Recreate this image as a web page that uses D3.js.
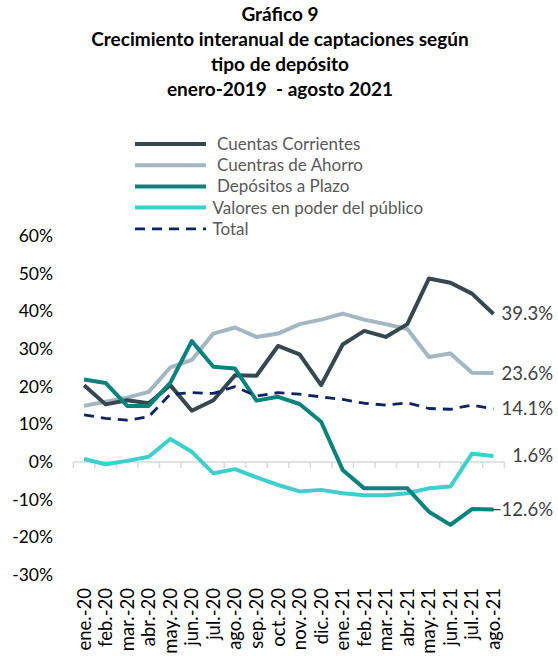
<!DOCTYPE html>
<html>
<head>
<meta charset="utf-8">
<script src="https://cdn.jsdelivr.net/npm/d3@7"></script>
<style>
  html, body { margin: 0; padding: 0; background: #fff; }
  svg { display: block; }
  text { font-family: Lato, "Open Sans", sans-serif; }
  .title { white-space: pre; }
</style>
</head>
<body>
<div id="chart"></div>
<script>
const titleLines = ["Gráfico 9", "Crecimiento interanual de captaciones según", "tipo de depósito", "enero-2019  - agosto 2021"];

const categories = ["ene.-20","feb.-20","mar.-20","abr.-20","may.-20","jun.-20","jul.-20","ago.-20","sep.-20","oct.-20","nov.-20","dic.-20","ene.-21","feb.-21","mar.-21","abr.-21","may.-21","jun.-21","jul.-21","ago.-21"];

const seriesNames = ["Cuentas Corrientes", "Cuentras de Ahorro", "Depósitos a Plazo", "Valores en poder del público", "Total"];

const corrientes = [20.4,15.3,16.4,15.6,20.4,13.6,16.4,23.0,22.9,30.8,28.6,20.4,31.2,34.8,33.2,36.6,48.7,47.6,44.7,39.3];
const ahorro     = [14.9,16.0,17.1,18.6,25.1,27.1,34.1,35.7,33.2,34.1,36.6,37.8,39.4,37.8,36.6,35.3,27.9,28.8,23.7,23.6];
const plazo      = [21.9,21.0,14.9,14.9,21.0,32.1,25.3,24.8,16.3,17.3,15.4,10.7,-2.1,-7.0,-7.0,-7.0,-13.2,-16.7,-12.5,-12.6];
const valores    = [0.8,-0.6,0.3,1.4,6.1,2.7,-3.0,-1.9,-4.1,-6.1,-7.8,-7.4,-8.3,-8.8,-8.8,-8.3,-7.0,-6.5,2.2,1.6];
const total      = [12.5,11.6,11.1,12.0,18.0,18.4,18.2,20.0,17.5,18.4,18.0,17.3,16.6,15.6,15.1,15.7,14.2,14.0,15.1,14.1];

const yTicks = [-30,-20,-10,0,10,20,30,40,50,60];

const W = 558, H = 656;
const svg = d3.select("#chart").append("svg").attr("width", W).attr("height", H);

// Title
svg.append("g").selectAll("text").data(titleLines).join("text")
  .attr("class", "title")
  .attr("x", 280).attr("y", (d, i) => 20.5 + i * 25)
  .attr("text-anchor", "middle")
  .attr("font-weight", "bold").attr("font-size", 19).attr("fill", "#000")
  .text(d => d);

// Scales
const x = d3.scaleBand().domain(categories).range([73.3, 504.3]).padding(0);
const y = d3.scaleLinear().domain([-30, 60]).range([575, 236]);
const cx = c => x(c) + x.bandwidth() / 2;

// Y axis labels
const yAxis = d3.axisLeft(y).tickValues(yTicks).tickSize(0).tickPadding(0).tickFormat(d => d + "%");
const yg = svg.append("g").attr("transform", "translate(53,0)").call(yAxis);
yg.select(".domain").remove();
yg.selectAll("text").attr("font-size", 17.5).attr("fill", "#000").attr("font-family", "Lato, sans-serif");

// Zero axis line with band ticks
const axisY = y(0);
svg.append("line").attr("x1", x.range()[0]).attr("x2", x.range()[1])
  .attr("y1", axisY).attr("y2", axisY).attr("stroke", "#d9d9d9").attr("stroke-width", 1.5);
const tickXs = categories.map(c => x(c)).concat([x.range()[1]]);
svg.append("g").selectAll("line").data(tickXs).join("line")
  .attr("x1", d => d).attr("x2", d => d).attr("y1", axisY).attr("y2", axisY + 6)
  .attr("stroke", "#d9d9d9").attr("stroke-width", 1.5);

// X labels (rotated)
svg.append("g").selectAll("text").data(categories).join("text")
  .attr("transform", d => `translate(${cx(d)},588) rotate(-90)`)
  .attr("text-anchor", "end").attr("dy", "0.35em")
  .attr("font-size", 18.5).attr("fill", "#000")
  .text(d => d);

// Series
const series = [
  { name: seriesNames[1], values: ahorro,     color: "#a2b7c2", width: 4, dash: null },
  { name: seriesNames[0], values: corrientes, color: "#36474f", width: 4, dash: null },
  { name: seriesNames[3], values: valores,    color: "#3ccfcb", width: 4, dash: null },
  { name: seriesNames[2], values: plazo,      color: "#0b827c", width: 4, dash: null },
  { name: seriesNames[4], values: total,      color: "#0c2461", width: 2.8, dash: "10,7" }
];

const line = d3.line().x((d, i) => cx(categories[i])).y(d => y(d));

svg.append("g").selectAll("path").data(series).join("path")
  .attr("d", s => line(s.values))
  .attr("fill", "none")
  .attr("stroke", s => s.color)
  .attr("stroke-width", s => s.width)
  .attr("stroke-linejoin", "round")
  .attr("stroke-dasharray", s => s.dash);

// End labels
const fmt = v => d3.format(".1f")(v) + "%";
svg.append("g").selectAll("text").data(series).join("text")
  .attr("x", 553).attr("y", s => y(s.values[s.values.length - 1]))
  .attr("dy", "0.35em").attr("text-anchor", "end")
  .attr("font-size", 18.5).attr("fill", "#404040")
  .text(s => fmt(s.values[s.values.length - 1]));

// Legend
const legendOrder = [0, 1, 2, 3, 4].map(i => series.find(s => s.name === seriesNames[i]));
const lg = svg.append("g");
const items = lg.selectAll("g").data(legendOrder).join("g")
  .attr("transform", (d, i) => `translate(0,${144 + i * 21.2})`);
items.append("line")
  .attr("x1", 135).attr("x2", 206).attr("y1", 0).attr("y2", 0)
  .attr("stroke", d => d.color).attr("stroke-width", d => d.width)
  .attr("stroke-dasharray", d => d.dash);
items.append("text")
  .attr("x", (d, i) => i < 3 ? 217 : 212.5).attr("y", 0).attr("dy", "0.35em")
  .attr("font-size", 17).attr("fill", "#595959")
  .text(d => d.name);
</script>
</body>
</html>
